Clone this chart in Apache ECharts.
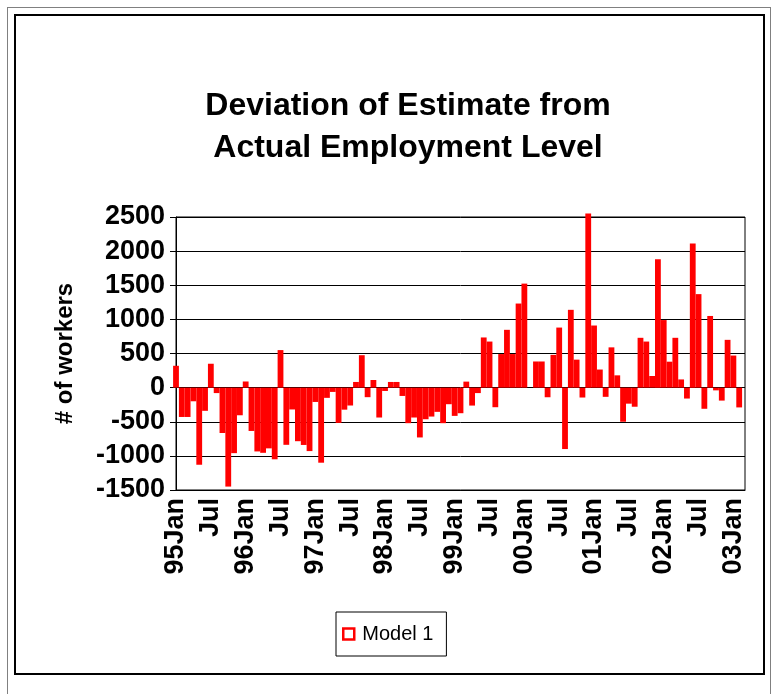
<!DOCTYPE html>
<html>
<head>
<meta charset="utf-8">
<script src="https://cdn.jsdelivr.net/npm/echarts@6/dist/echarts.min.js"></script>
<style>
    html, body { margin: 0; padding: 0; background: #fff; }
    /* 外框 */
    .outer { position: absolute; left: 7px; top: 7px; width: 762px; height: 700px; border: 1px solid #808080; }
    .frame { position: absolute; left: 14px; top: 14px; width: 747px; height: 657px; border: 2px solid #000; }
    #main { position: absolute; left: 0; top: 0; width: 773px; height: 694px; }
</style>
</head>
<body>
<div class="outer"></div>
<div class="frame"></div>
<div id="main"></div>
<script>
    var years = ['95', '96', '97', '98', '99', '00', '01', '02', '03'];
    var monthNames = ['Jan', 'Feb', 'Mar', 'Apr', 'May', 'Jun', 'Jul', 'Aug', 'Sep', 'Oct', 'Nov', 'Dec'];

    // 95Jan - 03Feb, monthly deviation (# of workers)
    var model1 = [
        320, -430, -430, -200, -1130, -340, 350, -80, -665, -1450, -960, -405,
        90, -635, -935, -955, -890, -1050, 550, -838, -320, -785, -840, -930,
        -210, -1100, -150, -63, -517, -323, -262, 83, 475, -140, 112, -438,
        -49, 83, 83, -122, -521, -438, -730, -463, -424, -355, -521, -243,
        -414, -375, 88, -263, -80, 735, 675, -287, 492, 847, 492, 1232,
        1524, 0, 383, 383, -141, 480, 880, -900, 1140, 410, -145, 2550,
        910, 265, -135, 590, 180, -500, -235, -280, 730, 675, 170, 1880,
        990, 380, 730, 120, -160, 2110, 1370, -310, 1050, -40, -190, 700,
        470, -290
    ];

    var yTicks = { min: -1500, max: 2500, step: 500 };

    // 月份类目
    var months = [];
    for (var i = 0; i < model1.length; i++) {
        months.push(years[Math.floor(i / 12)] + monthNames[i % 12]);
    }
    months.push('');

    var font = 'Liberation Sans, Arial, sans-serif';
    var myChart = echarts.init(document.getElementById('main'));
    var option = {
        animation: false,
        title: {
            text: 'Deviation of Estimate from\nActual Employment Level',
            left: 403,
            top: 80,
            textAlign: 'center',
            textStyle: {
                fontFamily: font,
                fontSize: 32,
                fontWeight: 'bold',
                color: '#000',
                lineHeight: 42
            }
        },
        grid: {
            left: 176,
            right: 28,
            top: 217,
            bottom: 204,
            show: true,
            borderColor: '#000',
            borderWidth: 1
        },
        legend: {
            data: ['Model 1'],
            left: 336,
            top: 612,
            padding: [12, 13, 12, 6],
            borderColor: '#000',
            borderWidth: 1,
            icon: 'rect',
            itemWidth: 11,
            itemHeight: 11,
            itemStyle: {
                color: '#fff',
                borderColor: '#ff0000',
                borderWidth: 2.5
            },
            textStyle: {
                fontFamily: font,
                fontSize: 20,
                color: '#000',
                padding: [0, 0, 0, 3]
            }
        },
        xAxis: {
            type: 'category',
            data: months,
            boundaryGap: false,
            axisLine: {
                onZero: false,
                lineStyle: { color: '#000', width: 1 }
            },
            axisTick: { show: false },
            axisLabel: {
                rotate: 90,
                interval: 5,
                margin: 8,
                padding: [0, 0, 6, 0],
                fontFamily: font,
                fontSize: 27,
                fontWeight: 'bold',
                color: '#000',
                formatter: function(v) {
                    return v.slice(2) === 'Jul' ? 'Jul' : v;
                }
            },
            splitLine: { show: false }
        },
        yAxis: {
            type: 'value',
            min: yTicks.min,
            max: yTicks.max,
            interval: yTicks.step,
            name: '# of workers',
            nameLocation: 'middle',
            nameGap: 99,
            nameTextStyle: {
                fontFamily: font,
                fontSize: 24,
                fontWeight: 'bold',
                color: '#000'
            },
            axisLine: {
                show: true,
                lineStyle: { color: '#000', width: 1 }
            },
            axisTick: {
                show: true,
                length: 6,
                lineStyle: { color: '#000' }
            },
            axisLabel: {
                margin: 11,
                fontFamily: font,
                fontSize: 27,
                fontWeight: 'bold',
                color: '#000',
                formatter: function(v) {
                    return String(v);
                }
            },
            splitLine: {
                lineStyle: { color: '#000', width: 1 }
            }
        },
        series: [{
            name: 'Model 1',
            type: 'bar',
            data: model1,
            barCategoryGap: '0%',
            clip: false,
            itemStyle: { color: '#ff0000' }
        }]
    };
    myChart.setOption(option);
</script>
</body>
</html>
